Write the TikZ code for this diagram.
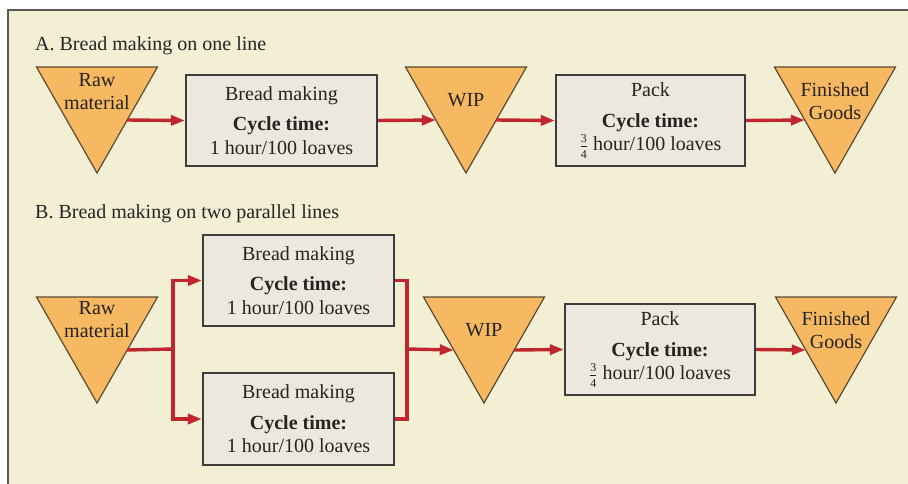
\documentclass[tikz,border=0pt]{standalone}
\usepackage{fontspec}
\setmainfont{Liberation Serif}
\usetikzlibrary{arrows.meta}

\definecolor{paper}{HTML}{F2EFD5}
\definecolor{framegray}{HTML}{5C5A58}
\definecolor{stockfill}{HTML}{F7B862}
\definecolor{stockline}{HTML}{5A4A32}
\definecolor{boxfill}{HTML}{ECE8DF}
\definecolor{boxline}{HTML}{3C3C3A}
\definecolor{flow}{HTML}{C1262E}
\definecolor{ink}{HTML}{262422}

% inventory triangle: name, centre x, top y
\newcommand\stocktri[3]{%
  \filldraw[tri] (#2-60.5,#3) -- (#2+60.5,#3) -- (#2,#3+106) -- cycle;
  \coordinate (#1-in)  at (#2-30.2,#3+53);
  \coordinate (#1-out) at (#2+30.2,#3+53);
}
\newcommand\quarterfrac{\raisebox{-0.5pt}{$\frac{\mbox{\fontsize{12}{12}\selectfont 3}}{\mbox{\fontsize{12}{12}\selectfont 4}}$}}

\begin{document}
\begin{tikzpicture}[x=1pt,y=-1pt,
  tri/.style={fill=stockfill,draw=stockline,line width=1.2pt,line join=miter},
  tritext/.style={font=\fontsize{20}{23}\selectfont,text=ink,align=center,inner sep=0pt},
  box/.style={draw=boxline,fill=boxfill,line width=2.2pt,minimum height=91pt,
    align=center,text=ink,inner sep=0pt,font=\fontsize{20}{23.5}\selectfont},
  title/.style={font=\fontsize{20}{24}\selectfont,text=ink,anchor=base west,inner sep=0pt},
  flowline/.style={draw=flow,line width=3.4pt},
  flowarrow/.style={flowline,-{Triangle[length=14pt,width=10pt]}}]

\useasboundingbox (0,0) rectangle (908,483);
\clip (0,0) rectangle (908,483);
\fill[white] (0,0) rectangle (908,483);
\filldraw[fill=paper,draw=framegray,line width=2.5pt] (8,10) rectangle (940,510);

% ---------- A: one line ----------
\node[title] (titleA) at (35,50) {A. Bread making on one line};

\stocktri{rawA}{97}{67}
\node[tritext] (rawAt) at (97,91.5) {Raw\\material};
\node[box,minimum width=191pt] (makeA) at (281.5,120.5)
  {Bread making\\[7pt]\textbf{Cycle time:}\\1 hour/100 loaves};
\stocktri{wipA}{466}{67}
\node[tritext] (wipAt) at (466,100) {WIP};
\node[box,minimum width=189pt] (packA) at (650.5,120.5)
  {Pack\\[7pt]\textbf{Cycle time:}\\\quarterfrac\ hour/100 loaves};
\stocktri{fgA}{835}{67}
\node[tritext] (fgAt) at (835,101.5) {Finished\\Goods};

\draw[flowarrow] (rawA-out) -- (makeA.west);
\draw[flowarrow] (makeA.east) -- (wipA-in);
\draw[flowarrow] (wipA-out) -- (packA.west);
\draw[flowarrow] (packA.east) -- (fgA-in);

% ---------- B: two parallel lines ----------
\node[title] (titleB) at (35,218) {B. Bread making on two parallel lines};

\stocktri{rawB}{97}{297}
\node[tritext] (rawBt) at (97,320) {Raw\\material};
\node[box,minimum width=191pt] (makeB1) at (298.5,280.5)
  {Bread making\\[7pt]\textbf{Cycle time:}\\1 hour/100 loaves};
\node[box,minimum width=191pt,minimum height=92pt] (makeB2) at (298.5,419)
  {Bread making\\[7pt]\textbf{Cycle time:}\\1 hour/100 loaves};
\stocktri{wipB}{484}{297}
\node[tritext] (wipBt) at (484,330) {WIP};
\node[box,minimum width=190pt] (packB) at (660,349.5)
  {Pack\\[7pt]\textbf{Cycle time:}\\\quarterfrac\ hour/100 loaves};
\stocktri{fgB}{836}{297}
\node[tritext] (fgBt) at (836,330) {Finished\\Goods};

\coordinate (split) at (173,349);
\coordinate (merge) at (407,349);
\draw[flowline] (rawB-out) -- (split);
\draw[flowarrow] (split) |- (makeB1.west);
\draw[flowarrow] (split) |- (makeB2.west);
\draw[flowline] (makeB1.east) -| (merge);
\draw[flowline] (makeB2.east) -| (merge);
\draw[flowarrow] (merge) -- (wipB-in);
\draw[flowarrow] (wipB-out) -- (packB.west);
\draw[flowarrow] (packB.east) -- (fgB-in);
\end{tikzpicture}
\end{document}
